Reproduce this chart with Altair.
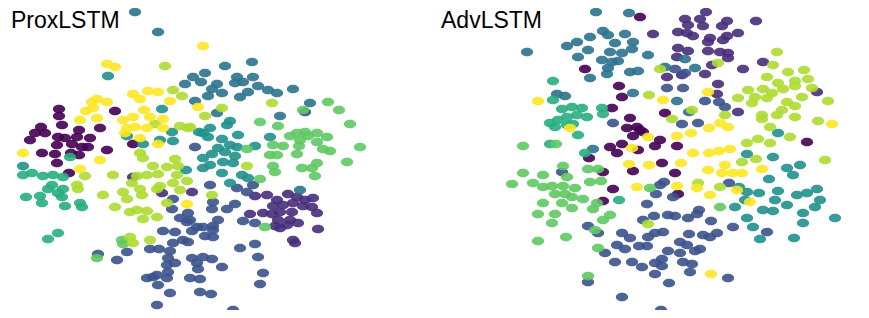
import altair as alt
import pandas as pd

# Embedding coordinates (picture units: dim1 to the right, dim2 downward)
CLASS_COLORS = ["#440154", "#472d7b", "#3b528b", "#2c728e", "#21918c",
                "#28ae80", "#5ec962", "#addc30", "#fde725"]
PANELS = ["ProxLSTM", "AdvLSTM"]

# ---------------- ProxLSTM ----------------
PROX_C0 = [(59,109),(115,111),(59,116),(41,127),(62,125),(79,130),(100,128),(35,133),(45,133),
           (30,140),(58,137),(65,138),(77,137),(90,138),(57,145),(72,144),(82,147),(88,147),
           (42,153),(55,154),(71,153),(79,155),(107,150),(133,144),(57,163),(69,173)]
PROX_C1 = [(133,177),(162,193),(192,192),(255,196),(267,195),(277,200),(288,194),(297,197),
           (305,200),(313,198),(273,206),(283,205),(293,203),(303,206),(312,207),(263,213),
           (272,214),(280,212),(292,212),(317,213),(278,220),(290,220),(298,223),(280,228),
           (275,226),(318,229),(293,240),(295,243),(287,225),(250,214)]
PROX_C2 = [(195,147),(305,112),(173,199),(172,209),(180,218),(187,222),(197,227),(163,231),
           (175,232),(192,231),(183,240),(173,243),(150,249),(159,249),(170,251),(168,258),
           (127,252),(117,260),(192,258),(197,263),(167,265),(175,263),(168,272),(157,275),
           (147,278),(153,277),(167,278),(190,278),(158,285),(170,293),(157,305),(200,292),
           (98,254),(210,185),(237,188),(253,185),(247,192),(213,202),(212,209),(235,204),
           (227,209),(188,213),(190,220),(203,227),(213,226),(218,220),(213,230),(243,221),
           (255,223),(205,236),(213,237),(188,242),(255,244),(240,248),(203,257),(212,259),
           (198,269),(222,267),(258,257),(263,273),(200,279),(260,284),(211,294),(233,310)]
PROX_C3 = [(135,12),(158,32),(193,77),(185,84),(201,82),(195,101),(252,62),(225,66),(205,73),
           (237,77),(253,77),(217,84),(243,82),(235,83),(212,89),(258,86),(268,90),(277,93),
           (222,93),(208,96),(248,92),(240,97),(293,89),(310,103),(280,116),(217,113),(300,190)]
PROX_C4 = [(108,76),(162,109),(172,132),(127,136),(160,140),(143,144),(173,141),(199,132),
           (230,121),(227,125),(210,128),(203,133),(208,137),(222,139),(238,135),(230,145),
           (237,147),(255,146),(270,137),(218,148),(212,154),(225,152),(235,156),(203,158),
           (223,162),(233,163),(210,165),(203,168),(186,170),(222,173),(242,175),(248,178),
           (230,183),(23,166)]
PROX_C5 = [(70,157),(32,173),(23,175),(43,176),(53,175),(63,177),(52,185),(48,189),(63,189),
           (58,193),(40,196),(26,197),(62,197),(42,203),(65,206),(80,203),(82,207),(58,233),
           (48,239)]
PROX_C6 = [(328,102),(339,110),(303,110),(350,124),(260,122),(278,126),(290,136),(297,133),
           (305,132),(317,133),(327,137),(300,140),(308,136),(317,142),(273,145),(283,146),
           (299,146),(323,149),(330,151),(360,147),(247,149),(270,155),(297,154),(277,155),
           (273,166),(275,172),(260,179),(302,168),(312,168),(317,163),(315,176),(347,162),
           (265,227),(97,258),(122,240),(123,244)]
PROX_C7 = [(165,66),(173,90),(182,96),(155,124),(180,126),(188,128),(140,153),(272,103),
           (222,108),(205,116),(190,127),(143,158),(175,159),(153,166),(167,167),(178,166),
           (113,175),(147,175),(158,174),(177,175),(137,176),(132,183),(85,176),(77,185),
           (78,189),(160,186),(173,183),(187,181),(103,195),(123,192),(140,189),(157,189),
           (180,190),(127,199),(142,195),(115,207),(167,203),(130,212),(137,210),(147,211),
           (157,217),(143,219),(150,240),(130,237),(133,243),(247,166),(212,195)]
PROX_C8 = [(203,46),(107,64),(115,67),(148,91),(158,92),(133,94),(140,99),(97,99),(92,102),
           (107,102),(86,111),(93,108),(170,101),(144,110),(80,120),(97,118),(123,120),
           (133,117),(150,117),(163,119),(127,128),(135,127),(147,128),(163,128),(125,133),
           (140,138),(158,144),(23,153),(198,107),(80,169),(100,160),(187,204)]

# ---------------- AdvLSTM ----------------
ADV_C0 = [(640,17),(585,69),(619,86),(622,97),(612,108),(630,118),(627,128),(637,127),(633,136),
          (643,132),(610,147),(622,144),(617,153),(589,158),(638,150),(665,113),(807,142),
          (640,130),(660,140),(655,146),(677,146),(603,172),(633,171),(613,189),(603,201),
          (662,163),(675,173),(678,194)]
ADV_C1 = [(706,12),(685,19),(700,19),(727,21),(756,21),(688,25),(703,26),(722,26),(653,34),
          (678,32),(687,33),(693,36),(710,38),(727,36),(738,33),(708,42),(723,40),(678,48),
          (688,51),(708,51),(720,52),(728,53),(677,57),(728,58),(763,62),(712,65),(743,69),
          (667,77),(705,74),(682,75),(718,84),(717,94),(738,112),(817,92)]
ADV_C2 = [(613,123),(667,88),(683,88),(705,101),(719,102),(725,107),(682,124),(698,123),
          (675,69),(685,73),(562,172),(588,226),(598,233),(622,233),(630,238),(617,245),
          (625,249),(605,253),(639,246),(647,246),(615,262),(632,262),(642,267),(588,282),
          (622,297),(647,204),(643,220),(648,237),(664,182),(660,185),(656,194),(673,197),
          (729,183),(699,210),(697,214),(668,215),(675,216),(688,218),(654,216),(711,221),
          (733,227),(767,232),(689,234),(703,235),(717,233),(710,237),(663,232),(655,233),
          (680,242),(687,245),(668,251),(680,253),(695,251),(700,249),(662,259),(655,263),
          (683,262),(692,264),(662,266),(690,272),(655,274),(669,283),(728,278),(661,310)]
ADV_C3 = [(596,12),(629,13),(527,52),(567,46),(577,42),(590,37),(603,31),(608,35),(625,34),
          (615,43),(633,42),(588,50),(610,52),(622,53),(632,49),(578,57),(602,60),(612,62),
          (618,61),(608,68),(590,78),(607,74),(630,72),(638,71),(633,93),(648,55),(557,94),
          (565,96),(593,149),(685,59),(665,67),(695,68),(677,101),(689,112)]
ADV_C4 = [(778,133),(747,154),(773,157),(787,168),(800,165),(793,175),(769,179),(739,187),
          (747,192),(759,193),(778,191),(797,195),(807,193),(817,189),(820,200),(775,200),
          (787,205),(745,200),(735,207),(763,210),(773,211),(803,213),(815,207),(835,218),
          (747,218),(803,223),(753,227),(760,239),(794,238),(868,162)]
ADV_C5 = [(553,81),(553,100),(562,109),(572,107),(582,108),(567,117),(577,115),(587,117),
          (558,120),(550,123),(573,124),(555,127),(567,125),(602,108),(603,114),(578,135),
          (550,144),(585,153),(619,200)]
ADV_C6 = [(523,146),(556,144),(523,173),(543,175),(512,184),(533,183),(563,166),(567,177),
          (543,187),(552,186),(563,186),(575,188),(555,194),(565,194),(572,197),(583,199),
          (543,203),(562,203),(572,208),(538,214),(555,214),(552,223),(538,241),(566,237),
          (588,169),(598,169),(590,182),(601,181),(597,203),(593,209),(610,215),(603,220),
          (595,230),(598,248),(588,276),(650,188),(720,207)]
ADV_C7 = [(649,95),(777,52),(718,63),(660,69),(773,65),(788,72),(804,70),(767,77),(778,83),
          (795,81),(808,79),(748,90),(763,89),(783,89),(772,93),(795,86),(812,88),(738,98),
          (755,97),(767,98),(752,103),(787,102),(802,97),(828,101),(795,106),(782,110),
          (725,115),(762,115),(777,115),(795,117),(818,121),(762,119),(770,127),(790,137),
          (747,143),(758,139),(770,143),(672,119),(692,110),(825,160),(648,224),(742,162),
          (756,159),(698,183),(720,187)]
ADV_C8 = [(538,101),(570,128),(632,148),(648,137),(708,92),(663,100),(720,123),(728,127),
          (709,128),(691,133),(677,136),(730,149),(719,151),(709,153),(693,153),(832,124),
          (629,164),(637,187),(649,165),(681,163),(708,170),(722,173),(725,165),(733,173),
          (742,173),(762,169),(677,186),(697,188),(710,195),(737,190),(750,202),(711,274)]

PROX = [PROX_C0, PROX_C1, PROX_C2, PROX_C3, PROX_C4, PROX_C5, PROX_C6, PROX_C7, PROX_C8]
ADV = [ADV_C0, ADV_C1, ADV_C2, ADV_C3, ADV_C4, ADV_C5, ADV_C6, ADV_C7, ADV_C8]


def frame(groups):
    rows = []
    for cls, pts in enumerate(groups):
        for (a, b) in pts:
            rows.append({"dim1": a, "dim2": b, "cls": cls})
    return pd.DataFrame(rows)


ELLIPSE = "M-1,0A1,0.7,0,1,1,1,0A1,0.7,0,1,1,-1,0Z"
H = 302


def panel(df, name, xdom):
    w = xdom[1] - xdom[0]
    pts = alt.Chart(df).mark_point(
        shape=ELLIPSE, filled=True, opacity=0.9, size=150, strokeWidth=0, clip=True
    ).encode(
        x=alt.X("dim1:Q", scale=alt.Scale(domain=xdom, nice=False, zero=False), axis=None),
        y=alt.Y("dim2:Q", scale=alt.Scale(domain=[8, 8 + H], reverse=True, nice=False, zero=False), axis=None),
        color=alt.Color("cls:O", scale=alt.Scale(domain=list(range(9)), range=CLASS_COLORS), legend=None),
    )
    label = alt.Chart(pd.DataFrame({"t": [name]})).mark_text(
        align="left", baseline="alphabetic", fontSize=23, font="Liberation Sans", color="#000000"
    ).encode(x=alt.value(3), y=alt.value(20), text="t:N")
    return alt.layer(pts, label).properties(width=w, height=H)


left = panel(frame(PROX), PANELS[0], [8, 438])
right = panel(frame(ADV), PANELS[1], [438, 861])

chart = alt.hconcat(left, right, spacing=0).properties(
    padding=0
).configure_view(stroke=None).configure_concat(spacing=0)

chart.save("out.html", embed_options={"renderer": "svg", "actions": False})
